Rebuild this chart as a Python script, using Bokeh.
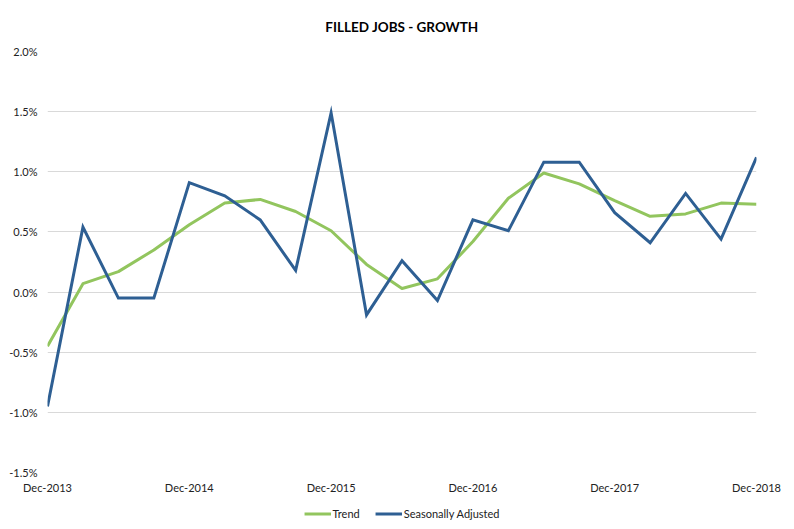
from bokeh.plotting import figure
from bokeh.layouts import column
from bokeh.models import Range1d, FixedTicker, Legend, LegendItem
from bokeh.embed import file_html
from bokeh.resources import INLINE

quarters = list(range(21))
x_tick_pos = [0, 4, 8, 12, 16, 20]
x_tick_labels = ["Dec-2013", "Dec-2014", "Dec-2015", "Dec-2016", "Dec-2017", "Dec-2018"]
y_ticks = [-1.5, -1.0, -0.5, 0.0, 0.5, 1.0, 1.5, 2.0]
y_tick_labels = ["-1.5%", "-1.0%", "-0.5%", "0.0%", "0.5%", "1.0%", "1.5%", "2.0%"]

trend = [-0.45, 0.07, 0.17, 0.35, 0.56, 0.74, 0.77, 0.67, 0.51, 0.23, 0.03,
         0.11, 0.42, 0.78, 0.99, 0.90, 0.76, 0.63, 0.65, 0.74, 0.73]
seas_adj = [-0.95, 0.54, -0.05, -0.05, 0.91, 0.80, 0.60, 0.18, 1.49, -0.19, 0.26,
            -0.07, 0.60, 0.51, 1.08, 1.08, 0.66, 0.41, 0.82, 0.44, 1.12]
series_names = ["Trend", "Seasonally Adjusted"]
series_colors = ["#92C55E", "#2E5F93"]

FONT = "Lato"
TXT = "#222222"

p = figure(frame_width=709, frame_height=421, output_backend="svg", toolbar_location=None,
           x_range=Range1d(0, 20), y_range=Range1d(-1.5, 2.0),
           min_border_left=47, min_border_right=26, min_border_top=43, min_border_bottom=29)
p.outline_line_color = None
p.background_fill_color = "white"
p.border_fill_color = "white"

p.title.text = "FILLED JOBS - GROWTH"
p.title.align = "center"
p.title.text_font = FONT
p.title.text_font_size = "13.5px"
p.title.text_font_style = "bold"
p.title.text_color = "#000000"
p.title.standoff = 33

# axes
p.xaxis.ticker = FixedTicker(ticks=x_tick_pos)
p.xaxis.major_label_overrides = {int(k): v for k, v in zip(x_tick_pos, x_tick_labels)}
p.yaxis.ticker = FixedTicker(ticks=y_ticks)
p.yaxis.major_label_overrides = {k: v for k, v in zip(y_ticks, y_tick_labels)}
for ax in (p.xaxis[0], p.yaxis[0]):
    ax.axis_line_color = None
    ax.major_tick_line_color = None
    ax.minor_tick_line_color = None
    ax.major_tick_out = 0
    ax.major_tick_in = 0
    ax.major_label_text_font = FONT
    ax.major_label_text_font_size = "11px"
    ax.major_label_text_color = TXT
p.yaxis.major_label_standoff = 10
p.xaxis.major_label_standoff = 8

p.xgrid.visible = False
p.ygrid.ticker = FixedTicker(ticks=y_ticks)
p.ygrid.grid_line_color = "#d9d9d9"
p.ygrid.grid_line_width = 1

r_trend = p.line(quarters, trend, line_color=series_colors[0], line_width=3, line_join="round")
r_sa = p.line(quarters, seas_adj, line_color=series_colors[1], line_width=3, line_join="miter")

# legend strip below the chart (series drawn out of its visible range, only the legend shows)
lg = figure(width=782, height=24, output_backend="svg", toolbar_location=None,
            x_range=Range1d(0, 20), y_range=Range1d(100, 101),
            x_axis_location=None, y_axis_location=None,
            min_border=0)
lg.outline_line_color = None
lg.grid.visible = False
lg.border_fill_color = "white"
items = []
for name, color, vals in zip(series_names, series_colors, [trend, seas_adj]):
    rr = lg.line(quarters, vals, line_color=color, line_width=3)
    items.append(LegendItem(label=name, renderers=[rr]))

legend = Legend(items=items, orientation="horizontal", location="center",
                label_text_font=FONT, label_text_font_size="11px", label_text_color=TXT,
                glyph_width=27, glyph_height=12, label_standoff=2, spacing=15,
                label_height=12,
                border_line_color=None, background_fill_alpha=0,
                padding=0, margin=0)
lg.add_layout(legend, "center")

layout = column(p, lg, spacing=0)
open("out.html", "w").write(file_html(layout, INLINE))
